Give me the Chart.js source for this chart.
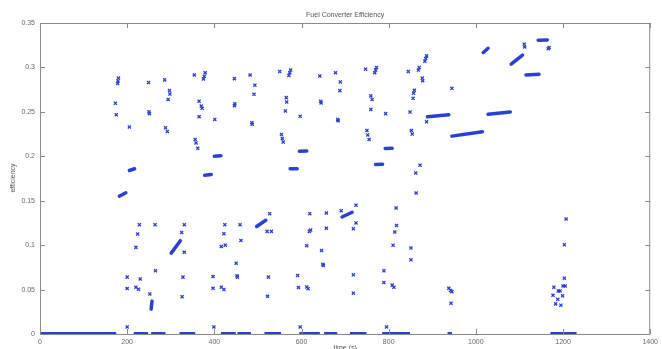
<!DOCTYPE html>
<html>
<head>
<meta charset="utf-8">
<script src="https://cdn.jsdelivr.net/npm/chart.js@4.4.1/dist/chart.umd.min.js"></script>
<style>
  html, body { margin: 0; padding: 0; background: #fff; }
  #wrap { width: 662px; height: 349px; }
</style>
</head>
<body>
<div id="wrap"><canvas id="effChart" width="662" height="349"></canvas></div>
<script>
// axis ticks
const xTicks = [0, 200, 400, 600, 800, 1000, 1200, 1400];
const yTicks = [0, 0.05, 0.1, 0.15, 0.2, 0.25, 0.3, 0.35];

// single samples (time s, efficiency)
const pointTime = [
  173, 175, 178, 179, 180, 205, 249, 250, 251, 286, 294, 297, 298, 288, 292,
  354, 375, 377, 379, 365, 370, 372, 365, 356, 358, 362, 401, 446, 446, 447,
  482, 493, 491, 486, 487, 550, 571, 573, 575, 565, 566, 563, 597, 554, 556, 558,
  642, 644, 645, 678, 689, 688, 683, 684, 747, 768, 770, 772, 759, 762, 759, 793,
  750, 752, 755, 885, 887, 883, 868, 870, 877, 878, 845, 859, 857, 856, 849, 852, 854,
  872, 862, 887, 945, 1111, 1112, 1168, 1166,
  228, 224, 220, 200, 200, 230, 220, 226, 264, 265, 252,
  331, 325, 331, 328, 326, 397, 397, 416, 422, 424, 422, 416, 425,
  459, 461, 450, 452, 453, 527, 521, 531, 524, 522,
  591, 593, 612, 615, 612, 619, 618, 621, 646, 649, 650, 657, 657,
  691, 725, 725, 719, 719, 719, 817, 818, 814, 810, 789, 789, 808, 812,
  863, 851, 851, 938, 942, 945, 943,
  1207, 1203, 1203, 1200, 1205, 1179, 1189, 1193, 1177, 1188, 1183, 1195, 1199,
  200, 399, 597, 795
];
const pointEff = [
  0.2596, 0.2468, 0.282, 0.2848, 0.288, 0.233, 0.283, 0.250, 0.248, 0.286, 0.264, 0.274, 0.270, 0.232, 0.228,
  0.2915, 0.287, 0.290, 0.294, 0.262, 0.2565, 0.254, 0.2445, 0.219, 0.215, 0.209, 0.2415, 0.2874, 0.257, 0.259,
  0.2915, 0.280, 0.2697, 0.2378, 0.236, 0.2953, 0.291, 0.294, 0.297, 0.266, 0.261, 0.251, 0.245, 0.2246, 0.220, 0.216,
  0.2904, 0.2619, 0.260, 0.294, 0.2837, 0.2739, 0.2415, 0.240, 0.298, 0.294, 0.297, 0.300, 0.268, 0.264, 0.2528, 0.248,
  0.229, 0.224, 0.219, 0.310, 0.313, 0.307, 0.297, 0.300, 0.288, 0.285, 0.2953, 0.2743, 0.271, 0.2652, 0.2498, 0.229, 0.225,
  0.190, 0.1813, 0.2388, 0.2765, 0.3262, 0.323, 0.3225, 0.321,
  0.123, 0.1125, 0.0975, 0.064, 0.0512, 0.062, 0.0527, 0.0504, 0.123, 0.0711, 0.0451,
  0.123, 0.1143, 0.092, 0.064, 0.042, 0.0647, 0.0515, 0.0527, 0.050, 0.123, 0.1129, 0.0985, 0.100,
  0.123, 0.1053, 0.0797, 0.0655, 0.064, 0.1354, 0.1155, 0.1155, 0.064, 0.0425,
  0.0658, 0.0523, 0.053, 0.051, 0.0993, 0.1354, 0.1155, 0.117, 0.094, 0.0784, 0.077, 0.1362, 0.119,
  0.1388, 0.145, 0.125, 0.1185, 0.0666, 0.0459, 0.1418, 0.1222, 0.1148, 0.100, 0.0711, 0.0579, 0.055, 0.0527,
  0.1587, 0.0967, 0.0835, 0.0515, 0.049, 0.0477, 0.0347,
  0.1294, 0.1004, 0.0628, 0.054, 0.054, 0.0527, 0.0485, 0.0485, 0.0436, 0.039, 0.0339, 0.0324, 0.043,
  0.008, 0.008, 0.008, 0.008
];

// dense runs of samples (start/end time, start/end efficiency)
const runStart  = [182, 205, 378, 400, 574, 595, 770, 792, 889, 945, 1028, 1017, 1081, 1115, 1143, 255, 301, 497, 693];
const runEnd    = [197, 217, 393, 415, 590, 612, 786, 808, 938, 1015, 1079, 1028, 1107, 1145, 1164, 257, 322, 518, 716];
const runEffStart = [0.155, 0.184, 0.1787, 0.200, 0.186, 0.2058, 0.1907, 0.2088, 0.2445, 0.2227, 0.2472, 0.3168, 0.3036, 0.2915, 0.3307, 0.028, 0.091, 0.121, 0.1317];
const runEffEnd   = [0.159, 0.186, 0.1795, 0.2005, 0.186, 0.206, 0.191, 0.209, 0.2468, 0.2275, 0.2498, 0.3216, 0.3138, 0.2923, 0.331, 0.037, 0.105, 0.128, 0.137];

// engine off (efficiency 0) periods
const idleStart = [0, 215, 255, 320, 415, 453, 515, 595, 652, 711, 785, 935, 1171];
const idleEnd   = [175, 248, 288, 356, 449, 484, 553, 642, 682, 749, 849, 945, 1231];

const blue = '#2a3fd4';

function segments(starts, ends, y0, y1) {
  const out = [];
  starts.forEach((s, i) => {
    out.push({ x: s, y: y0[i] });
    out.push({ x: ends[i], y: y1[i] });
    out.push({ x: ends[i], y: null });
  });
  return out;
}

const zeros = idleStart.map(() => 0);

const frame = {
  id: 'frame',
  afterDraw(chart) {
    const { ctx, chartArea: a, scales: { x, y } } = chart;
    ctx.save();
    ctx.strokeStyle = '#8a8a8a';
    ctx.lineWidth = 1;
    ctx.strokeRect(a.left + 0.5, a.top + 0.5, a.right - a.left - 1, a.bottom - a.top);
    ctx.beginPath();
    xTicks.forEach(v => {
      const px = Math.round(x.getPixelForValue(v)) + 0.5;
      ctx.moveTo(px, a.bottom); ctx.lineTo(px, a.bottom - 5);
      ctx.moveTo(px, a.top); ctx.lineTo(px, a.top + 5);
    });
    yTicks.forEach(v => {
      const py = Math.round(y.getPixelForValue(v)) + 0.5;
      ctx.moveTo(a.left, py); ctx.lineTo(a.left + 5, py);
      ctx.moveTo(a.right, py); ctx.lineTo(a.right - 5, py);
    });
    ctx.stroke();

    ctx.fillStyle = '#555';
    ctx.font = '7px "Liberation Sans", Arial, sans-serif';
    ctx.textAlign = 'center';
    ctx.textBaseline = 'middle';
    ctx.fillText('Fuel Converter Efficiency', (a.left + a.right) / 2, 15);
    ctx.fillText('time (s)', (a.left + a.right) / 2, 348);
    ctx.translate(13, 178);
    ctx.rotate(-Math.PI / 2);
    ctx.fillText('efficiency', 0, 0);
    ctx.restore();
  }
};

new Chart(document.getElementById('effChart').getContext('2d'), {
  type: 'scatter',
  data: {
    datasets: [
      {
        label: 'idle',
        type: 'line',
        data: segments(idleStart, idleEnd, zeros, zeros),
        borderColor: blue,
        borderWidth: 4,
        pointRadius: 0,
        spanGaps: false
      },
      {
        label: 'runs',
        type: 'line',
        data: segments(runStart, runEnd, runEffStart, runEffEnd),
        borderColor: blue,
        borderWidth: 3.5,
        borderCapStyle: 'round',
        pointRadius: 0,
        spanGaps: false
      },
      {
        label: 'efficiency',
        data: pointTime.map((t, i) => ({ x: t, y: pointEff[i] })),
        pointStyle: 'crossRot',
        pointRadius: 2.2,
        borderColor: blue,
        backgroundColor: blue,
        borderWidth: 1.3
      }
    ]
  },
  options: {
    responsive: false,
    animation: false,
    devicePixelRatio: 1,
    layout: { autoPadding: false, padding: { left: 0, top: 23, right: 2, bottom: 0 } },
    plugins: { legend: { display: false }, tooltip: { enabled: false } },
    scales: {
      x: {
        type: 'linear', min: 0, max: 1400,
        afterBuildTicks: s => { s.ticks = xTicks.map(v => ({ value: v })); },
        afterFit: s => { s.height = 15; },
        grid: { display: false, drawTicks: false },
        border: { display: false },
        ticks: { font: { size: 7 }, color: '#666', padding: 4, maxRotation: 0, callback: v => String(v) }
      },
      y: {
        type: 'linear', min: 0, max: 0.35,
        afterBuildTicks: s => { s.ticks = yTicks.map(v => ({ value: v })); },
        afterFit: s => { s.width = 40; },
        grid: { display: false, drawTicks: false },
        border: { display: false },
        ticks: { font: { size: 7 }, color: '#666', padding: 5, callback: v => String(v) }
      }
    }
  },
  plugins: [frame]
});
</script>
</body>
</html>
